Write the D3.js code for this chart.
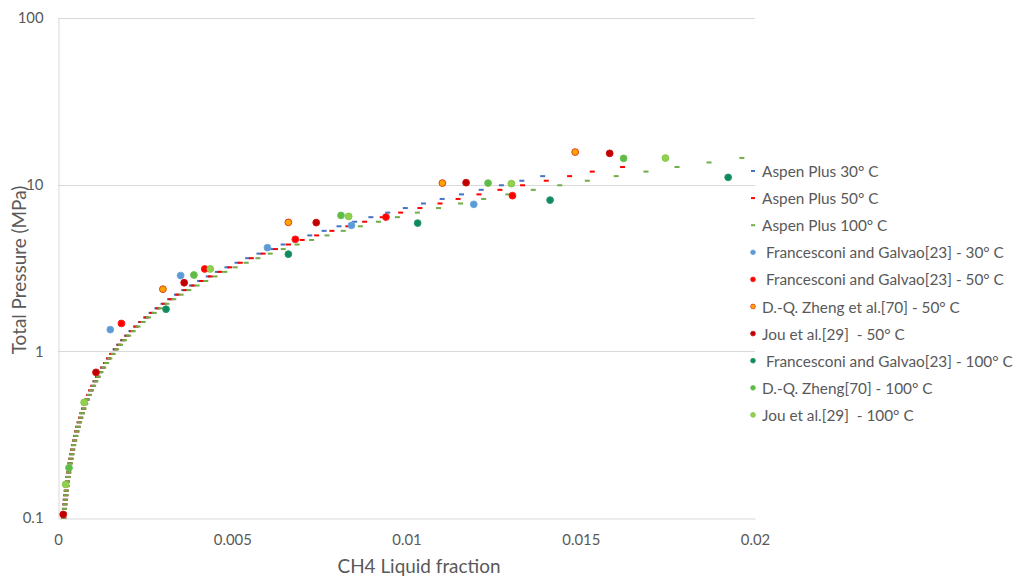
<!DOCTYPE html>
<html><head><meta charset="utf-8">
<script src="https://cdn.jsdelivr.net/npm/d3@7"></script>
<style>
body{margin:0;background:#fff;}
svg{display:block;}
text{font-family:Lato,'Open Sans',sans-serif;fill:#595959;}
</style>
</head><body>
<svg id="c" width="1016" height="576"></svg>
<script>
// ---------- data ----------
const xTicks = [0, 0.005, 0.01, 0.015, 0.02];
const xTickLabels = ["0", "0.005", "0.01", "0.015", "0.02"];
const yTicks = [0.1, 1, 10, 100];
const yTickLabels = ["0.1", "1", "10", "100"];

// Aspen Plus simulated points (pressure grid, MPa)
const aspenP = [0.1,0.1065,0.1134,0.1208,0.1287,0.137,0.1459,0.1554,0.1655,0.1763,
0.1877,0.1999,0.2129,0.2267,0.2415,0.2572,0.2739,0.2917,0.3107,0.3309,
0.3524,0.3752,0.3996,0.4256,0.4533,0.4827,0.5141,0.5475,0.5831,0.621,
0.6614,0.7044,0.7502,0.7989,0.8509,0.9062,0.9651,1.028,1.095,1.166,
1.241,1.322,1.408,1.5,1.597,1.701,1.812,1.929,2.055,2.188,
2.33,2.482,2.643,2.815,2.998,3.193,3.4,3.621,3.857,4.107,
4.374,4.658,4.961,5.284,5.627,5.993,6.382,6.797,7.239,7.71,
8.21,8.744,9.312,9.917,10.56,11.25,11.98,12.76,13.59,14.47];

const aspen30X = [0.000163,0.000173,0.000184,0.000196,0.000209,0.000223,0.000237,0.000252,0.000269,0.000286,
0.000305,0.000324,0.000345,0.000368,0.000392,0.000417,0.000444,0.000473,0.000503,0.000536,
0.00057,0.000607,0.000646,0.000687,0.000732,0.000779,0.000829,0.000882,0.000939,0.000999,
0.001063,0.001131,0.001203,0.00128,0.001362,0.001448,0.001541,0.001639,0.001743,0.001853,
0.001969,0.002094,0.002226,0.002366,0.002514,0.002671,0.002839,0.003014,0.003202,0.003399,
0.003608,0.00383,0.004064,0.004311,0.004572,0.004848,0.005137,0.005443,0.005766,0.006104,
0.00646,0.006833,0.007225,0.007636,0.008064,0.008512,0.008977,0.009462,0.009966,0.010487,
0.011023,0.011577,0.012144,0.012723,0.01331,0.013908];

const aspen50X = [0.000163,0.000173,0.000184,0.000196,0.000209,0.000223,0.000237,0.000253,0.000269,0.000287,
0.000305,0.000325,0.000346,0.000368,0.000392,0.000417,0.000444,0.000473,0.000504,0.000536,
0.000571,0.000608,0.000647,0.000689,0.000733,0.00078,0.000831,0.000884,0.000941,0.001002,
0.001066,0.001135,0.001208,0.001285,0.001367,0.001455,0.001548,0.001647,0.001753,0.001864,
0.001981,0.002108,0.002241,0.002384,0.002534,0.002694,0.002865,0.003044,0.003236,0.003437,
0.003651,0.003879,0.004119,0.004374,0.004644,0.004929,0.00523,0.005548,0.005885,0.006239,
0.006613,0.007007,0.007422,0.007859,0.008317,0.008799,0.009303,0.009832,0.010385,0.010962,
0.01148,0.01208,0.01268,0.01333,0.01401,0.01468,0.01533,0.0162];

const aspen100X = [0.000166,0.000177,0.000188,0.0002,0.000213,0.000227,0.000242,0.000258,0.000274,0.000292,
0.000311,0.000331,0.000352,0.000375,0.0004,0.000426,0.000453,0.000482,0.000514,0.000547,
0.000582,0.00062,0.00066,0.000703,0.000748,0.000796,0.000848,0.000903,0.000961,0.001023,
0.001089,0.001159,0.001234,0.001313,0.001397,0.001487,0.001583,0.001684,0.001793,0.001907,
0.002028,0.002158,0.002296,0.002443,0.002597,0.002763,0.002939,0.003124,0.003323,0.003532,
0.003754,0.003991,0.004241,0.004507,0.004788,0.005086,0.005401,0.005736,0.00609,0.006464,
0.006859,0.007276,0.007718,0.008185,0.008676,0.009194,0.009739,0.010313,0.010917,0.01155,
0.012213,0.012909,0.013637,0.014397,0.015188,0.016017,0.016873,0.017762,0.018681,0.019623];

// Experimental points
const fran30X = [0.0015, 0.00352, 0.00601, 0.00842, 0.01193];
const fran30P = [1.35, 2.85, 4.19, 5.70, 7.62];
const fran50X = [0.00182, 0.00421, 0.00681, 0.00941, 0.01304];
const fran50P = [1.47, 3.12, 4.70, 6.39, 8.59];
const zheng50X = [0.00301, 0.00661, 0.01103, 0.01484];
const zheng50P = [2.36, 5.94, 10.22, 15.69];
const jou50X = [0.00015, 0.00109, 0.00362, 0.00741, 0.01171, 0.01583];
const jou50P = [0.105, 0.748, 2.58, 5.92, 10.28, 15.41];
const fran100X = [0.0031, 0.00661, 0.01032, 0.01412, 0.01923];
const fran100P = [1.79, 3.83, 5.88, 8.08, 11.06];
const zheng100X = [0.000316, 0.0039, 0.00812, 0.01234, 0.01623];
const zheng100P = [0.2, 2.87, 6.54, 10.22, 14.38];
const jou100X = [0.00022, 0.00075, 0.00437, 0.00834, 0.01301, 0.01743];
const jou100P = [0.159, 0.494, 3.12, 6.45, 10.14, 14.44];

const seriesNames = [
  "Aspen Plus 30° C", "Aspen Plus 50° C", "Aspen Plus 100° C",
  " Francesconi and Galvao[23] - 30° C", " Francesconi and Galvao[23] - 50° C",
  "D.-Q. Zheng et al.[70] - 50° C", "Jou et al.[29]  - 50° C",
  " Francesconi and Galvao[23] - 100° C", "D.-Q. Zheng[70] - 100° C", "Jou et al.[29]  - 100° C"
];
const xTitle = "CH4 Liquid fraction";
const yTitle = "Total Pressure (MPa)";

// ---------- drawing ----------
const svg = d3.select('#c');
const x = d3.scaleLinear().domain([0, 0.02]).range([58, 755]);
const y = d3.scaleLog().domain([0.1, 100]).range([518, 18]);

function fitSize(sel, base, target) {
  sel.attr('font-size', base);
  const w = sel.node().getComputedTextLength();
  const fs = base * target / w;
  sel.attr('font-size', fs);
  return fs;
}

// gridlines
svg.append('g').selectAll('line').data(yTicks.slice(1)).join('line')
  .attr('x1', x(0)).attr('x2', x(0.02))
  .attr('y1', d => Math.round(y(d)) + 0.5).attr('y2', d => Math.round(y(d)) + 0.5)
  .attr('stroke', '#D9D9D9').attr('stroke-width', 1);

// axes
const gx = svg.append('g').attr('transform', `translate(0,${Math.round(y(0.1)) + 0.5})`)
  .call(d3.axisBottom(x).tickValues(xTicks).tickFormat((d, i) => xTickLabels[i]).tickSize(0).tickPadding(16));
gx.select('.domain').attr('stroke', '#D9D9D9');
const gy = svg.append('g').attr('transform', `translate(${Math.round(x(0)) + 0.5},0)`)
  .call(d3.axisLeft(y).tickValues(yTicks).tickFormat((d, i) => yTickLabels[i]).tickSize(0).tickPadding(15));
gy.select('.domain').attr('stroke', '#D9D9D9');
svg.selectAll('.tick text').attr('font-family', "Lato,'Open Sans',sans-serif").attr('fill', '#595959');

// tick label size fitted to the reference width of "0.005"
const probe = svg.append('text').text("0.005");
const tickFs = fitSize(probe, 15, 38);
probe.remove();
svg.selectAll('.tick text').attr('font-size', tickFs);

// axis titles
const xt = svg.append('text').attr('x', 419).attr('y', 565).attr('text-anchor', 'middle')
  .attr('dominant-baseline', 'central').text(xTitle);
const titleFs = fitSize(xt, 17, 163);
svg.append('text').attr('transform', 'translate(18,270) rotate(-90)')
  .attr('text-anchor', 'middle').attr('dominant-baseline', 'central')
  .attr('font-size', titleFs).text(yTitle);

// Aspen dash markers
const aspen = [
  {xs: aspen30X, color: '#4472C4'},
  {xs: aspen50X, color: '#FF0000'},
  {xs: aspen100X, color: '#70AD47'}
];
aspen.forEach(s => {
  const pts = s.xs.map((v, i) => [v, aspenP[i]]);
  svg.append('g').selectAll('rect').data(pts).join('rect')
    .attr('x', d => x(d[0]) - 2.5).attr('y', d => y(d[1]) - 1)
    .attr('width', 5).attr('height', 2).attr('fill', s.color);
});

// experimental points
const exp = [
  {xs: fran30X, ps: fran30P, fill: '#5B9BD5', stroke: '#6FA8DC'},
  {xs: fran50X, ps: fran50P, fill: '#FF0000', stroke: '#FF2020'},
  {xs: zheng50X, ps: zheng50P, fill: '#FFA500', stroke: '#E0401E'},
  {xs: jou50X, ps: jou50P, fill: '#C00000', stroke: '#D01010'},
  {xs: fran100X, ps: fran100P, fill: '#0E8A5C', stroke: '#2A9A6E'},
  {xs: zheng100X, ps: zheng100P, fill: '#5DBB46', stroke: '#6CC458'},
  {xs: jou100X, ps: jou100P, fill: '#92D050', stroke: '#84C846'}
];
exp.forEach(s => {
  const pts = s.xs.map((v, i) => [v, s.ps[i]]);
  svg.append('g').selectAll('circle').data(pts).join('circle')
    .attr('cx', d => x(d[0])).attr('cy', d => y(d[1])).attr('r', 3.4)
    .attr('fill', s.fill).attr('stroke', s.stroke).attr('stroke-width', 1);
});

// legend
const leg = svg.append('g');
const legY0 = 171, legDy = 27.1;
seriesNames.forEach((name, i) => {
  const cy = legY0 + i * legDy;
  if (i < 3) {
    leg.append('rect').attr('x', 751).attr('y', cy - 1).attr('width', 4).attr('height', 2)
      .attr('fill', aspen[i].color);
  } else {
    const s = exp[i - 3];
    leg.append('circle').attr('cx', 753).attr('cy', cy).attr('r', 2.4)
      .attr('fill', s.fill).attr('stroke', s.stroke).attr('stroke-width', 0.8);
  }
  leg.append('text').attr('x', 762).attr('y', cy).attr('dominant-baseline', 'central')
    .style('white-space', 'pre').attr('class', 'legtext').text(name);
});
const legProbe = leg.selectAll('.legtext').filter((d, i, n) => n[i].textContent === seriesNames[7]);
const legFs = fitSize(legProbe, 15, 251);
leg.selectAll('.legtext').attr('font-size', legFs);
</script>
</body></html>
